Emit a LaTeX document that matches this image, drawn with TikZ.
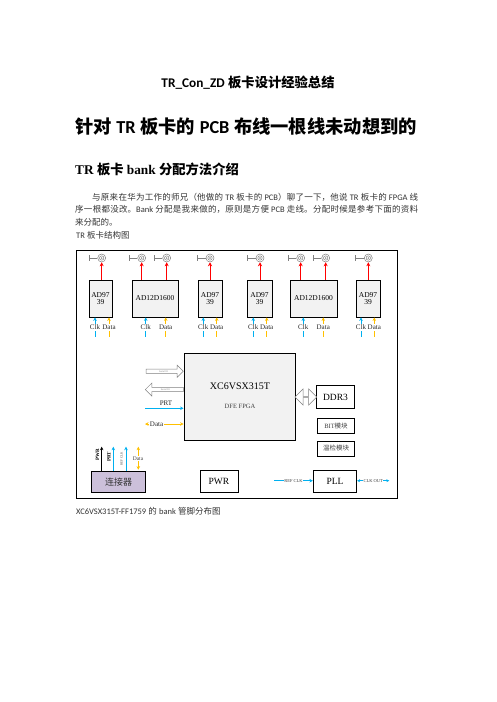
\documentclass[tikz,border=0pt]{standalone}
\usepackage{fontspec}
\setmainfont{Liberation Serif}
\newfontfamily\zhfont{Noto Sans CJK SC}
\newfontfamily\calfont{Carlito}
\usetikzlibrary{arrows.meta,shapes.arrows,calc}
\definecolor{myblue}{HTML}{00B0F0}
\definecolor{myorange}{HTML}{FFC000}
\definecolor{myred}{HTML}{FF0000}
\definecolor{boxgray}{HTML}{F2F2F2}
\definecolor{conncol}{HTML}{CCC0DA}
\newcommand\zh[1]{{\zhfont #1}}
\newcommand\myfs[1]{\fontsize{#1}{#1}\selectfont}
\begin{document}
\begin{tikzpicture}[x=1pt,y=-1pt,
  chip/.style={draw, line width=0.8pt, fill=boxgray, inner sep=0pt, align=center, font=\myfs{7.5}},
  plain/.style={draw, line width=0.8pt, fill=white, inner sep=0pt, font=\myfs{9.5}},
  ant/.style={circle, draw=gray, line width=0.5pt, minimum size=8pt, inner sep=0pt,
    path picture={\draw[gray,line width=0.5pt] (path picture bounding box.center) circle (2.2pt);
                  \fill[gray] (path picture bounding box.center) circle (0.8pt);}},
  redarr/.style={draw=myred, line width=0.9pt, -{Stealth[length=4pt,width=4pt]}},
  bluearr/.style={draw=myblue, line width=0.8pt, -{Stealth[length=3.5pt,width=3.5pt]}},
  bluedbl/.style={draw=myblue, line width=0.8pt, {Stealth[length=3pt,width=3pt]}-{Stealth[length=3pt,width=3pt]}},
  orangearr/.style={draw=myorange, line width=0.8pt, -{Stealth[length=3.5pt,width=3.5pt]}},
  orangedbl/.style={draw=myorange, line width=0.8pt, {Stealth[length=3.5pt,width=3.5pt]}-{Stealth[length=3.5pt,width=3.5pt]}},
  blackarr/.style={draw=black, line width=0.8pt, -{Stealth[length=3.5pt,width=3.5pt]}},
  lbl/.style={font=\myfs{7}, inner sep=0.5pt, text=black!85},
  hollow/.style={draw=gray, line width=0.5pt, fill=white, inner sep=0.5pt, font=\myfs{2.5}, text=gray}
]
\useasboundingbox (0,0) rectangle (496,702);

% ---------- header text ----------
\node[font=\bfseries\myfs{13.3}, inner sep=0] (title) at (248,83) {{\calfont TR\_Con\_ZD} \zh{板卡设计经验总结}};
\node[anchor=west, inner sep=0, font=\bfseries\myfs{18.3}] (h1) at (75,127)
  {\zh{针对} {\calfont TR} \zh{板卡的} {\calfont PCB} \zh{布线一根线未动想到的}};
\node[anchor=west, inner sep=0, font=\bfseries\myfs{13.3}] (h2) at (75,169)
  {TR \zh{板卡} bank \zh{分配方法介绍}};
\node[anchor=north west, inner sep=0, text width=343pt, align=justify, text=black!80,
      font=\zhfont\fontsize{8.5}{12.5}\selectfont] (para) at (75,192.7)
  {\XeTeXlinebreaklocale "zh"\XeTeXlinebreakskip=0pt plus 1pt
   \hspace*{17pt}与原来在华为工作的师兄（他做的 {\calfont TR} 板卡的 {\calfont PCB}）聊了一下，他说 {\calfont TR} 板卡的 {\calfont FPGA} 线\linebreak
   序一根都没改。{\calfont Bank} 分配是我来做的，原则是方便 {\calfont PCB} 走线。分配时候是参考下面的资料\linebreak
   来分配的。};
\node[anchor=west, inner sep=0, text=black!80, font=\myfs{8.5}] (figlbl) at (76,235)
  {{\calfont TR} \zh{板卡结构图}};
\node[anchor=west, inner sep=0, text=black!80, font=\myfs{8.5}] (caption) at (76,511)
  {{\calfont XC6VSX315T-FF1759} \zh{的} {\calfont bank} \zh{管脚分布图}};

% ---------- frame ----------
\draw[line width=0.8pt] (76,250) rectangle (397,498);

% ---------- converter chips ----------
\node[chip, minimum width=23pt, minimum height=37pt] (A1) at (100.5,298.5) {AD97\\39};
\node[chip, minimum width=46pt, minimum height=37pt] (B1) at (155,298.5) {AD12D1600};
\node[chip, minimum width=24pt, minimum height=37pt] (A2) at (210,298.5) {AD97\\39};
\node[chip, minimum width=25pt, minimum height=37pt] (A3) at (259.5,298.5) {AD97\\39};
\node[chip, minimum width=47pt, minimum height=37pt] (B2) at (313.5,298.5) {AD12D1600};
\node[chip, minimum width=24pt, minimum height=37pt] (A4) at (368,298.5) {AD97\\39};

% ---------- antennas ----------
\foreach \n/\x/\b in {1/101.7/A1, 2/141.7/B1, 3/166.7/B1, 4/210/A2, 5/260/A3, 6/300.7/B2, 7/325.7/B2, 8/368.3/A4}{
  \node[ant] (t\n) at (\x,258) {};
  \draw[gray, line width=0.5pt] (t\n.west) -- ++(-8.5,0) ++(0,-3) -- ++(0,6);
  \draw[redarr] (t\n.south |- \b.north) -- (t\n.south);
}

% ---------- Clk / Data inputs ----------
\foreach \n/\cx/\dx/\b in {1/95/109/A1, 2/145.7/165.7/B1, 3/203.3/216.7/A2, 4/253.3/266.7/A3, 5/303.3/323.3/B2, 6/361/374.3/A4}{
  \node[lbl] (clk\n) at (\cx,327) {Clk};
  \node[lbl] (dat\n) at (\dx,327) {Data};
  \draw[bluearr] (clk\n.north) -- (clk\n.north |- \b.south);
  \draw[orangearr] (dat\n.north) -- (dat\n.north |- \b.south);
  \draw[myblue, line width=0.8pt] (clk\n.south) ++(0,1) -- ++(0,6);
  \draw[myorange, line width=0.8pt] (dat\n.south) ++(0,1) -- ++(0,6);
}

% ---------- FPGA ----------
\node[chip, minimum width=111pt, minimum height=87pt] (fpga) at (239.5,396.7) {};
\node[font=\myfs{10}, inner sep=0] (fpgaT) at (240,386.7) {XC6VSX315T};
\node[font=\myfs{6.5}, inner sep=0, text=black!75] (fpgaS) at (240,406.7) {DFE FPGA};

\node[hollow, single arrow, minimum height=37pt, minimum width=12pt, single arrow head extend=3pt,
      anchor=tip] (sa1) at (fpga.west |- 0,371.2) {Serial IO};
\node[hollow, single arrow, shape border rotate=180, minimum height=38pt, minimum width=13pt,
      single arrow head extend=3.5pt, anchor=tail] (sa2) at (fpga.west |- 0,389.5) {Serial IO};

\node[lbl] (prtlbl) at (166,403) {PRT};
\coordinate (prtS) at (145,408.3);
\draw[bluearr] (prtS) -- (prtS -| fpga.west);
\coordinate (datS) at (145,424);
\draw[orangedbl] (datS) -- (datS -| fpga.west) node[pos=0.3, fill=white, lbl] (datlbl) {Data};

% ---------- right side ----------
\node[plain, minimum width=37.6pt, minimum height=22.6pt] (ddr) at (335.5,397) {DDR3};
\node[draw=gray, line width=0.5pt, fill=white, double arrow, minimum height=21.7pt, minimum width=16pt,
      double arrow head extend=3.5pt, inner sep=0pt] (darr) at ($(fpga.east |- ddr)!0.5!(ddr.west)$) {};
\node[plain, minimum width=37.6pt, minimum height=14.3pt, font=\myfs{6.5}, text=black!75] (bit) at (336,426) {BIT\zh{模块}};
\node[plain, minimum width=37.6pt, minimum height=15pt, font=\zhfont\myfs{6.5}, text=black!75] (temp) at (336,448.5) {温检模块};
\node[plain, minimum width=43.4pt, minimum height=22.3pt] (pll) at (335,481.2) {PLL};
\coordinate (refS) at (274,480.7);
\draw[bluearr] (refS) -- (refS -| pll.west) node[midway, fill=white, inner sep=0.3pt, font=\myfs{4.5}, text=black!75] (reflbl) {REF CLK};
\coordinate (clkE) at (389.3,480.7);
\draw[bluedbl] (clkE -| pll.east) -- (clkE) node[midway, fill=white, inner sep=0.3pt, font=\myfs{4.5}, text=black!75] (clkoutlbl) {CLK OUT};

% ---------- bottom left ----------
\node[plain, fill=conncol, minimum width=54pt, minimum height=21.3pt, font=\zhfont\myfs{9}, text=black!80] (conn) at (118.7,481.7) {连接器};
\node[plain, minimum width=38pt, minimum height=22pt] (pwr) at (219,481.2) {PWR};

\coordinate (pwrT) at (101.7,446.7);
\coordinate (prtT) at (113.3,446.7);
\coordinate (refT) at (126,446.7);
\coordinate (dT) at (138.3,446.7);
\draw[blackarr] (conn.north -| pwrT) -- (pwrT);
\draw[bluearr] (conn.north -| prtT) -- (prtT);
\draw[bluearr] (conn.north -| refT) -- (refT);
\draw[orangedbl] (conn.north -| dT) ++(0,-1) -- (dT);
\node[rotate=90, inner sep=0, font=\bfseries\myfs{5}] (pwrlbl) at (97.5,455) {PWR};
\node[rotate=90, inner sep=0, font=\bfseries\myfs{5}] (prtlbl2) at (109,457) {PRT};
\node[rotate=90, inner sep=0, font=\myfs{3.2}, text=black!75] (reflbl2) at (121.7,459) {REF CLK};
\node[fill=white, inner sep=0.5pt, font=\myfs{5.5}, text=black!75] (dlbl2) at (138,458.5) {Data};
\end{tikzpicture}
\end{document}
